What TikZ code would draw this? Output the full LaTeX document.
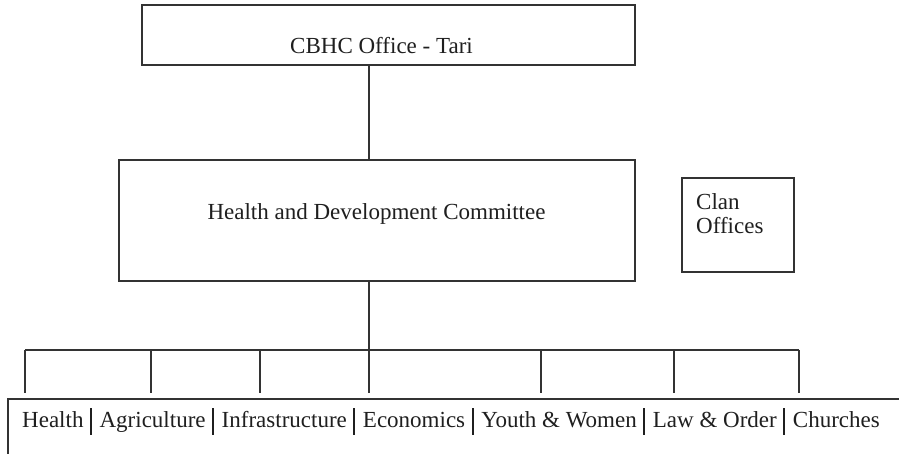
\documentclass[tikz,border=0pt]{standalone}
\usepackage{fontspec}
\setmainfont{Liberation Serif}
\newcommand\sepbar{\hspace{6.5pt}\rule[-7pt]{2pt}{27pt}\hspace{7.6pt}}
\begin{document}
\begin{tikzpicture}[x=1pt,y=-1pt,
  box/.style={draw=black!80, line width=1.5pt, rectangle, inner sep=0pt},
  conn/.style={draw=black!80, line width=1.5pt},
  lbl/.style={text=black!88, font=\fontsize{23}{25}\selectfont, inner sep=0pt}]
\clip (0,0) rectangle (899,453);
\fill[white] (0,0) rectangle (899,453);
% boxes
\node[box, minimum width=493pt, minimum height=60pt] (top) at (388.5,35) {};
\node[lbl] (toptext) at (381.5,46) {CBHC Office - Tari};
\node[box, minimum width=516pt, minimum height=121pt] (mid) at (377,220.5) {};
\node[lbl] (midtext) at (376.5,213.5) {Health and Development Committee};
\node[box, minimum width=112pt, minimum height=94pt] (clan) at (738,225) {};
\node[lbl, anchor=north west, align=left, font=\fontsize{23}{24.5}\selectfont] (clantext) at (696,193) {Clan\\Offices};
\node[box, anchor=north west, minimum width=950pt, minimum height=100pt] (bottom) at (7,398) {};
\node[lbl, anchor=base west] (bottext) at (22,427.5) {Health\sepbar Agriculture\sepbar Infrastructure\sepbar Economics\sepbar Youth \& Women\sepbar Law \& Order\sepbar Churches};
% bus coordinates
\foreach \i/\x in {1/25,2/151,3/260,4/369,5/541,6/674,7/799}{
  \coordinate (b\i) at (\x,350);
  \coordinate (d\i) at (\x,393);
}
\draw[conn] (top.south -| b4) -- (mid.north -| b4);
\draw[conn] (mid.south -| b4) -- (b4);
\draw[conn] (b1) -- (b7);
\foreach \i in {1,...,7}{ \draw[conn] (b\i) -- (d\i); }
\end{tikzpicture}
\end{document}
